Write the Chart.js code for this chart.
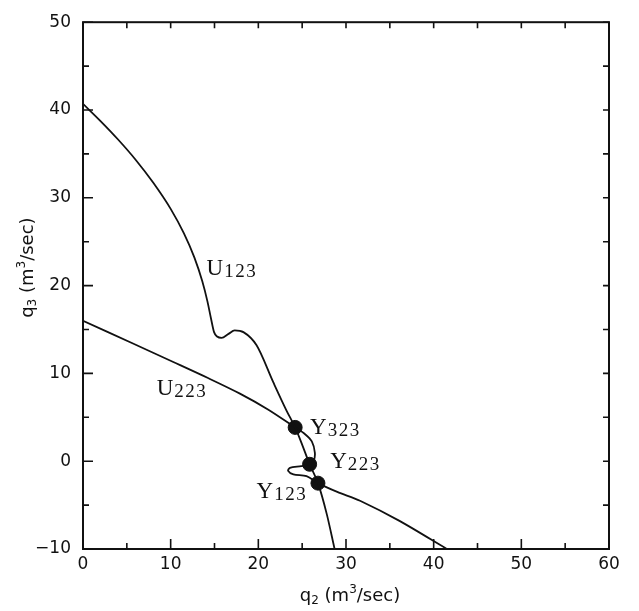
<!DOCTYPE html>
<html>
<head>
<meta charset="utf-8">
<script src="https://cdn.jsdelivr.net/npm/chart.js@4"></script>
<style>
  html, body { margin: 0; padding: 0; background: #fff; }
  #wrap { width: 639px; height: 611px; }
</style>
</head>
<body>
<div id="wrap"><canvas id="grafico"></canvas></div>
<script>
const xTicks = [0, 10, 20, 30, 40, 50, 60];
const yTicks = [-10, 0, 10, 20, 30, 40, 50];

// isocline U123 (q2, q3)
const u123X = [0, 2, 4, 6, 8, 10, 11.5, 12.7, 13.6, 14.2, 14.6, 14.95, 15.3, 15.8, 16.6, 17.3, 18.3, 19.8, 21.7, 23.2, 24.2, 25.05, 25.85, 26.8, 27.8, 28.7];
const u123Y = [40.7, 38.74, 36.64, 34.34, 31.74, 28.74, 25.97, 23.21, 20.51, 18.17, 16.25, 14.7, 14.2, 14.05, 14.5, 14.9, 14.7, 13.2, 9.0, 5.8, 3.85, 1.75, -0.35, -2.5, -6.0, -10];

// isocline U223, with the small loop between the equilibria
const u223X = [0, 5.7, 10.3, 14.2, 17.9, 21.1, 24.2, 25.3, 26.1, 26.45, 26.3, 25.85, 24.9, 23.6, 23.4, 24.0, 25.5, 26.8, 29.0, 31.6, 36.1, 41.5];
const u223Y = [16.0, 13.4, 11.3, 9.5, 7.7, 5.9, 3.85, 3.1, 2.25, 0.95, 0.0, -0.35, -0.56, -0.75, -1.1, -1.5, -1.7, -2.5, -3.5, -4.5, -6.8, -10];

// equilibrium points
const eqNames = ['Y323', 'Y223', 'Y123'];
const eqX = [24.2, 25.85, 26.8];
const eqY = [3.85, -0.35, -2.5];

// curve / point labels, anchored in data units (left edge, baseline)
const curveLabels = [
  { letter: 'U', digits: '123', x: 14.1, y: 21.25 },
  { letter: 'U', digits: '223', x: 8.4, y: 7.55 },
  { letter: 'Y', digits: '323', x: 25.9, y: 3.05 },
  { letter: 'Y', digits: '223', x: 28.2, y: -0.8 },
  { letter: 'Y', digits: '123', x: 19.8, y: -4.2 }
];

const toPoints = (xs, ys) => xs.map((x, i) => ({ x: x, y: ys[i] }));

// draws a string made of pieces with sub/superscripts, centred on (cx, cy)
function drawRich(ctx, parts, cx, cy, rot) {
  ctx.save();
  ctx.translate(cx, cy);
  ctx.rotate(rot);
  let total = 0;
  parts.forEach(p => {
    ctx.font = p.size + 'px "DejaVu Sans"';
    p.w = ctx.measureText(p.t).width;
    total += p.w;
  });
  let x = -total / 2;
  ctx.textBaseline = 'middle';
  ctx.textAlign = 'left';
  parts.forEach(p => {
    ctx.font = p.size + 'px "DejaVu Sans"';
    ctx.fillText(p.t, x, p.dy || 0);
    x += p.w;
  });
  ctx.restore();
}

const framePlugin = {
  id: 'frame',
  afterDraw(chart) {
    const ctx = chart.ctx;
    const { left, right, top, bottom } = chart.chartArea;
    const xs = chart.scales.x;
    const ys = chart.scales.y;
    ctx.save();
    ctx.strokeStyle = '#111';
    ctx.fillStyle = '#111';

    // box
    ctx.lineWidth = 2;
    ctx.strokeRect(left, top, right - left, bottom - top);

    // inward ticks every 5 units
    ctx.lineWidth = 1.6;
    ctx.beginPath();
    for (let v = 0; v <= 60; v += 5) {
      const px = xs.getPixelForValue(v);
      const len = v % 10 === 0 ? 10 : 6;
      ctx.moveTo(px, bottom); ctx.lineTo(px, bottom - len);
      ctx.moveTo(px, top); ctx.lineTo(px, top + 6);
    }
    for (let v = -10; v <= 50; v += 5) {
      const py = ys.getPixelForValue(v);
      const len = v % 10 === 0 ? 10 : 6;
      ctx.moveTo(left, py); ctx.lineTo(left + len, py);
      ctx.moveTo(right, py); ctx.lineTo(right - 6, py);
    }
    ctx.stroke();

    // labels of the curves and equilibria
    ctx.textBaseline = 'alphabetic';
    ctx.textAlign = 'left';
    curveLabels.forEach(l => {
      const px = xs.getPixelForValue(l.x);
      const py = ys.getPixelForValue(l.y);
      ctx.font = '23px "Liberation Serif"';
      ctx.letterSpacing = '0px';
      ctx.fillText(l.letter, px, py);
      const w = ctx.measureText(l.letter).width;
      ctx.font = '19px "Liberation Serif"';
      ctx.letterSpacing = '1.5px';
      ctx.fillText(l.digits, px + w + 1, py + 2);
    });
    ctx.letterSpacing = '0px';

    // axis titles
    drawRich(ctx, [
      { t: 'q', size: 18 }, { t: '2', size: 12, dy: 5 },
      { t: ' (m', size: 18 }, { t: '3', size: 12, dy: -6 }, { t: '/sec)', size: 18 }
    ], (left + right) / 2 + 4, bottom + 47, 0);
    drawRich(ctx, [
      { t: 'q', size: 18 }, { t: '3', size: 12, dy: 5 },
      { t: ' (m', size: 18 }, { t: '3', size: 12, dy: -6 }, { t: '/sec)', size: 18 }
    ], left - 55, (top + bottom) / 2 - 18, -Math.PI / 2);
    ctx.restore();
  }
};

const lineStyle = {
  type: 'line',
  borderColor: '#111',
  borderWidth: 1.8,
  pointRadius: 0,
  fill: false
};

new Chart(document.getElementById('grafico'), {
  type: 'scatter',
  data: {
    datasets: [
      Object.assign({ label: 'U123', data: toPoints(u123X, u123Y), cubicInterpolationMode: 'monotone' }, lineStyle),
      Object.assign({ label: 'U223', data: toPoints(u223X, u223Y), tension: 0.3 }, lineStyle),
      {
        label: 'Equilibria',
        data: toPoints(eqX, eqY),
        backgroundColor: '#111',
        borderColor: '#111',
        pointRadius: 7,
        pointHoverRadius: 7
      }
    ]
  },
  options: {
    responsive: true,
    maintainAspectRatio: false,
    animation: false,
    layout: { padding: { top: 14, right: 30, left: 0, bottom: 0 } },
    plugins: {
      legend: { display: false },
      tooltip: { enabled: false }
    },
    scales: {
      x: {
        type: 'linear',
        min: 0,
        max: 60,
        afterBuildTicks: s => { s.ticks = xTicks.map(v => ({ value: v })); },
        afterFit: s => { s.height = 62; },
        grid: { display: false, drawTicks: false },
        border: { display: false },
        ticks: {
          color: '#111',
          padding: 5,
          maxRotation: 0,
          font: { family: 'DejaVu Sans', size: 17 },
          callback: v => String(v).replace('-', '\u2212')
        }
      },
      y: {
        type: 'linear',
        min: -10,
        max: 50,
        afterBuildTicks: s => { s.ticks = yTicks.map(v => ({ value: v })); },
        afterFit: s => { s.width = 83; },
        grid: { display: false, drawTicks: false },
        border: { display: false },
        ticks: {
          color: '#111',
          padding: 12,
          font: { family: 'DejaVu Sans', size: 17 },
          callback: v => String(v).replace('-', '\u2212')
        }
      }
    }
  },
  plugins: [framePlugin]
});
</script>
</body>
</html>
